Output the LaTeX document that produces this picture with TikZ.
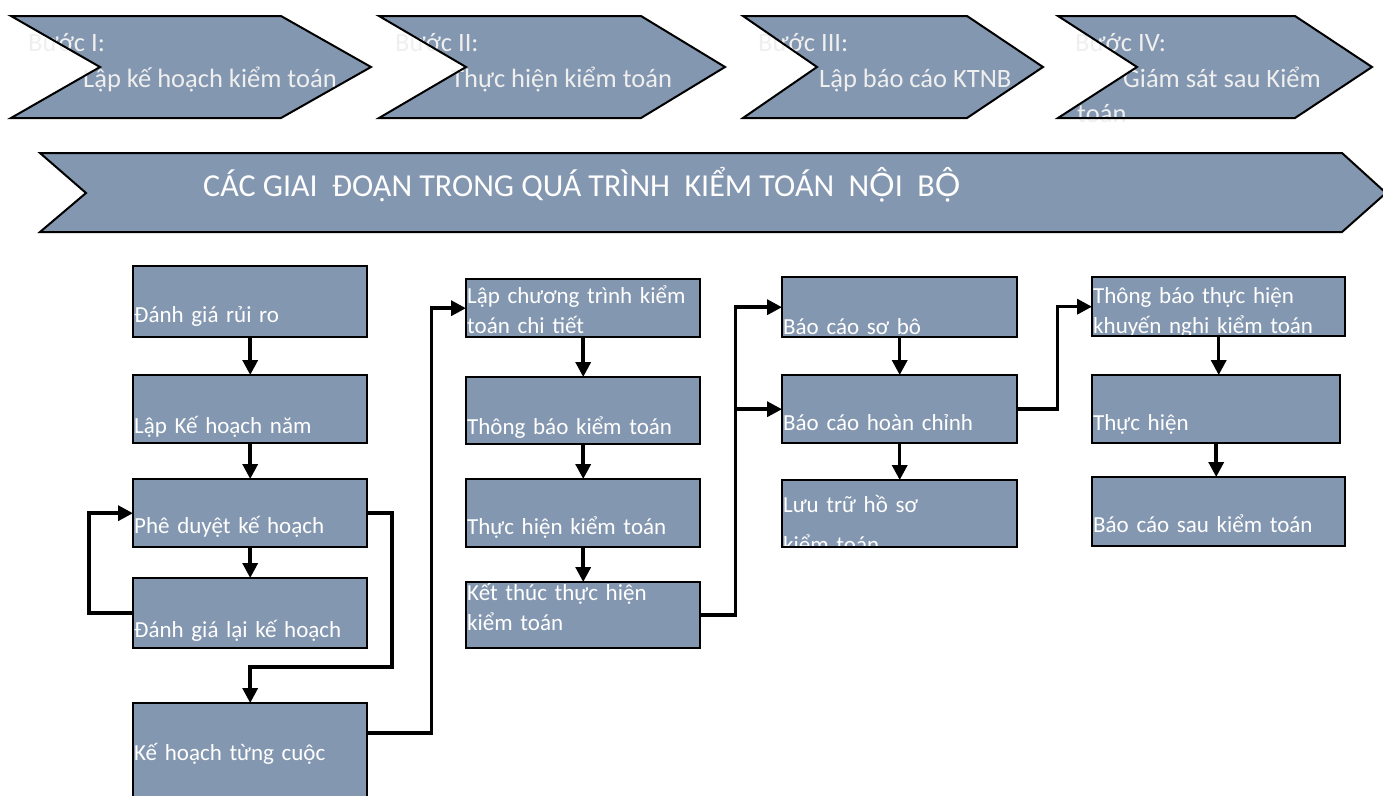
\documentclass[tikz,border=0pt]{standalone}
\usepackage{fontspec}
\setmainfont{Carlito}
\newfontfamily\vnfont{Lato}
\usetikzlibrary{arrows.meta}

\definecolor{slate}{HTML}{8497B0}
\definecolor{paper}{HTML}{EFEFEF}
\newcommand{\boxfont}{\fontsize{23}{30}\selectfont}
\newcommand{\chevfont}{\fontsize{26.5}{32}\selectfont}
\newcommand{\bannerfont}{\fontsize{32}{36}\selectfont}

\tikzset{
  chevfill/.style = {fill=slate},
  chevline/.style = {draw=black, line width=2pt},
  chevtext/.style = {anchor=base west, inner sep=0pt, text=paper, font=\chevfont},
  stage/.style    = {fill=slate, anchor=north west, inner xsep=1pt, inner ysep=0pt,
                     align=left, text=white, font=\boxfont},
  boxrim/.style   = {draw=black, line width=2pt},
  flow/.style     = {line width=3.5pt, -{Triangle[length=15pt,width=15pt]}},
}

\begin{document}
\begin{tikzpicture}[x=1pt, y=-1pt]
  \useasboundingbox (0,0) rectangle (1383,795);

  % phase chevrons
  \foreach \l/\n/\r/\t in {11/100/281/371, 379/466/641/725, 743/817/967/1043, 1058/1137/1295/1372}
    \fill[chevfill] (\l,16) -- (\r,16) -- (\t,67) -- (\r,118) -- (\l,118) -- (\n,67) -- cycle;
  \fill[chevfill] (40,153) -- (1342,153) -- (1386,193) -- (1342,232) -- (40,232) -- (86,193) -- cycle;

  \node[chevtext] (stepI)   at (28,51)    {Bước I:};
  \node[chevtext] (taskI)   at (83,87)    {Lập kế hoạch kiểm toán};
  \node[chevtext] (stepII)  at (395,51)   {Bước II:};
  \node[chevtext] (taskII)  at (451,87)   {Thực hiện kiểm toán};
  \node[chevtext] (stepIII) at (758,51)   {Bước III:};
  \node[chevtext] (taskIII) at (819,87)   {Lập báo cáo KTNB};
  \node[chevtext] (stepIV)  at (1075,51)  {Bước IV:};
  \node[chevtext] (taskIV)  at (1123,87)  {Giám sát sau Kiểm};
  \node[chevtext] (taskIVb) at (1077,122) {toán};
  \node[chevtext, text=white, font=\bannerfont] (banner) at (203,196)
    {CÁC GIAI\ \ ĐOẠN TRONG QUÁ TRÌNH\ \ KIỂM TOÁN\ \ N{\vnfont Ộ}I\ \ B{\vnfont Ộ}};

  \foreach \l/\n/\r/\t in {11/100/281/371, 379/466/641/725, 743/817/967/1043, 1058/1137/1295/1372}
    \draw[chevline] (\l,16) -- (\r,16) -- (\t,67) -- (\r,118) -- (\l,118) -- (\n,67) -- cycle;
  \draw[chevline] (40,153) -- (1342,153) -- (1386,193) -- (1342,232) -- (40,232) -- (86,193) -- cycle;

  % planning
  \node[stage, text width=232pt, text height=56pt, text depth=15pt] (risk)    at (133,266) {Đánh giá rủi ro};
  \node[stage, text width=232pt, text height=58pt, text depth=10pt] (annual)  at (133,375) {Lập Kế hoạch năm};
  \node[stage, text width=232pt, text height=54pt, text depth=14pt] (approve) at (133,479) {Phê duyệt kế hoạch};
  \node[stage, text width=232pt, text height=59pt, text depth=11pt] (review)  at (133,578) {Đánh giá lại kế hoạch};
  \node[stage, text width=232pt, text height=57pt, text depth=63pt] (engage)  at (133,703) {Kế hoạch từng cuộc};

  % fieldwork
  \node[stage, text width=232pt, text height=24pt, text depth=34pt] (program) at (466,279) {Lập chương trình kiểm\\toán chi tiết};
  \node[stage, text width=232pt, text height=57pt, text depth=10pt] (notice)  at (466,377) {Thông báo kiểm toán};
  \node[stage, text width=232pt, text height=55pt, text depth=13pt] (perform) at (466,479) {Thực hiện kiểm toán};
  \node[stage, text width=232pt, text height=18pt, text depth=48pt] (finish)  at (466,582) {Kết thúc thực hiện\\kiểm toán};

  % reporting
  \node[stage, text width=233pt, text height=57pt, text depth=3pt]  (prelim)  at (782,277) {Báo cáo sơ bô};
  \node[stage, text width=233pt, text height=55pt, text depth=13pt] (final)   at (782,375) {Báo cáo hoàn chỉnh};
  \node[stage, text width=233pt, text height=32pt, text depth=35pt] (archive) at (782,480) {Lưu trữ hồ sơ\\[10pt]kiểm toán};

  % follow-up
  \node[stage, text width=251pt, text height=26pt, text depth=33pt] (followup)  at (1092,277) {Thông báo thực hiện\\khuyến nghi kiểm toán};
  \node[stage, text width=246pt, text height=55pt, text depth=13pt] (implement) at (1092,375) {Thực hiện};
  \node[stage, text width=251pt, text height=55pt, text depth=14pt] (postrep)   at (1092,477) {Báo cáo sau kiểm toán};

  \foreach \b in {risk, annual, approve, review, engage, program, notice, perform, finish,
                  prelim, final, archive, followup, implement, postrep}
    \draw[boxrim] (\b.north west) rectangle (\b.south east);

  % connectors
  \draw[flow] (risk) -- (annual);
  \draw[flow] (annual) -- (approve);
  \draw[flow] (approve) -- (review);
  \draw[flow] (review.west) -- ++(-44,0) |- (approve.west);
  \draw[flow] (approve.east) -| (392,667) -| (engage.north);
  \draw[flow] ([yshift=-30pt]engage.north east) -- ++(64,0) |- (program.west);

  \draw[flow] (program) -- (notice);
  \draw[flow] (notice) -- (perform);
  \draw[flow] (perform) -- (finish);
  \draw[flow] (finish.east) -- ++(35,0) |- (prelim.west);
  \draw[flow] (finish.east) -- ++(35,0) |- (final.west);

  \draw[flow] (prelim) -- (final);
  \draw[flow] (final) -- (archive);
  \draw[flow] (final.east) -- ++(40,0) |- (followup.west);

  \draw[flow] (followup.south) -- (followup.south |- implement.north);
  \draw[flow] (implement.south) -- (implement.south |- postrep.north);
\end{tikzpicture}
\end{document}
